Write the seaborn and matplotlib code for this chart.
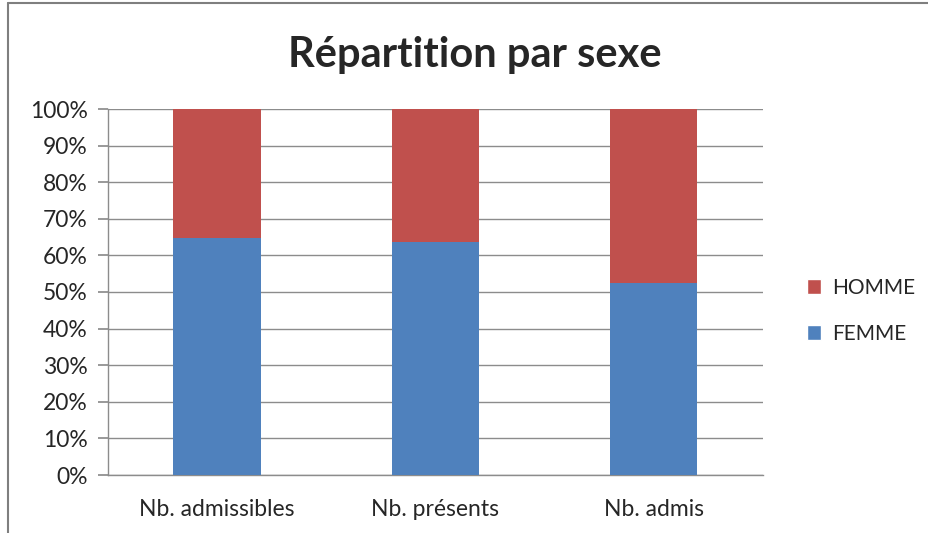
import matplotlib
matplotlib.use("Agg")
import matplotlib.pyplot as plt
import seaborn as sns
import pandas as pd
from matplotlib.patches import Patch
from matplotlib.lines import Line2D

# ── Data ────────────────────────────────────────────────────────────────
categories = ["Nb. admissibles", "Nb. présents", "Nb. admis"]
femme_pct = [64.7, 63.6, 52.4]
homme_pct = [35.3, 36.4, 47.6]
y_ticks = [0, 10, 20, 30, 40, 50, 60, 70, 80, 90, 100]

BLUE = "#4F81BD"
RED = "#C0504D"
GRID = "#8C8C8C"

sns.set_theme(style="white")
plt.rcParams['font.family'] = ['Lato', 'DejaVu Sans']

df = pd.DataFrame({
    "cat": categories,
    "FEMME": femme_pct,
    "total": [f + h for f, h in zip(femme_pct, homme_pct)],
})

fig = plt.figure(figsize=(9.29, 5.33), dpi=100)
ax = fig.add_axes([108 / 929, 58 / 533, 655 / 929, 366 / 533])

# stacked: full bar in red, femme part in blue over it
sns.barplot(data=df, x="cat", y="total", color=RED, width=0.4,
            saturation=1, linewidth=0, ax=ax, zorder=3)
sns.barplot(data=df, x="cat", y="FEMME", color=BLUE, width=0.4,
            saturation=1, linewidth=0, ax=ax, zorder=3)

ax.set_ylim(0, 100)
ax.set_xlim(-0.5, 2.5)
ax.set_yticks(y_ticks)
ax.set_yticklabels([f"{t}%" for t in y_ticks], fontsize=16.5)
ax.set_xlabel("")
ax.set_ylabel("")
ax.tick_params(axis="x", which="major", length=0, pad=17, labelsize=16.5)
ax.set_xticks([-0.5, 0.5, 1.5, 2.5], minor=True)
ax.tick_params(axis="x", which="minor", length=7, color=GRID, direction="out")
ax.tick_params(axis="y", length=7.5, color=GRID, direction="out", pad=7, left=True)

ax.grid(axis="y", color=GRID, linewidth=1, zorder=0)
ax.set_axisbelow(True)
for side in ["top", "right"]:
    ax.spines[side].set_visible(False)
for side in ["left", "bottom"]:
    ax.spines[side].set_color(GRID)
    ax.spines[side].set_linewidth(1)

fig.text(475 / 929, 1 - 55 / 533, "Répartition par sexe", ha="center",
         va="center", fontsize=30, fontweight="bold")

handles = [Patch(facecolor=RED, label="HOMME"), Patch(facecolor=BLUE, label="FEMME")]
fig.legend(handles=handles, loc="center left", bbox_to_anchor=(788 / 929, 1 - 311 / 533),
           frameon=False, fontsize=15, handlelength=0.7, handleheight=0.7,
           handletextpad=0.5, labelspacing=1.25)

# outer chart border (top and left visible)
fig.add_artist(Line2D([8 / 929, 1], [1 - 3 / 533, 1 - 3 / 533], transform=fig.transFigure,
                      color="#7F7F7F", linewidth=1.5))
fig.add_artist(Line2D([8 / 929, 8 / 929], [0, 1 - 3 / 533], transform=fig.transFigure,
                      color="#7F7F7F", linewidth=1.5))

fig.savefig("out.png", dpi=100, facecolor="white")
